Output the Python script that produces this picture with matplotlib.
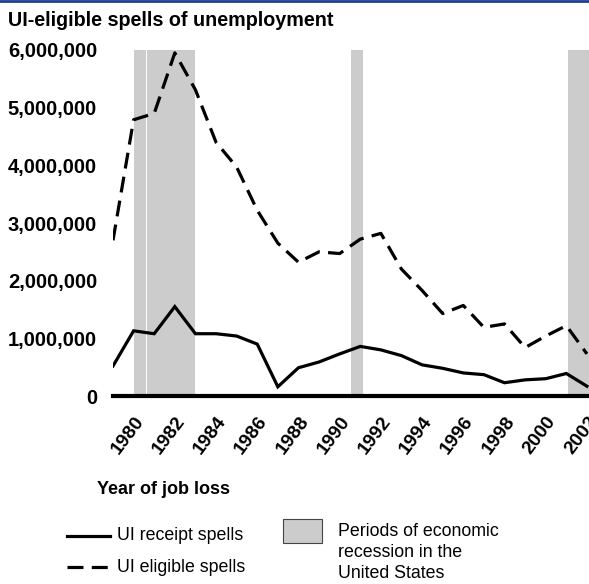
import matplotlib.pyplot as plt
import matplotlib.transforms as mtransforms
from matplotlib.lines import Line2D
from matplotlib.patches import Rectangle

plt.rcParams['font.family'] = ['Liberation Sans', 'DejaVu Sans']

years = list(range(1979, 2003))
receipt = [0.52, 1.13, 1.08, 1.55, 1.08, 1.08, 1.04, 0.90, 0.16, 0.49, 0.59, 0.73,
           0.86, 0.80, 0.70, 0.54, 0.48, 0.40, 0.37, 0.23, 0.28, 0.30, 0.39, 0.17]
eligible = [2.70, 4.79, 4.90, 5.95, 5.31, 4.40, 3.97, 3.22, 2.65, 2.32, 2.50, 2.47,
            2.72, 2.82, 2.20, 1.83, 1.43, 1.57, 1.19, 1.25, 0.84, 1.04, 1.22, 0.73]
receipt = [v * 1e6 for v in receipt]
eligible = [v * 1e6 for v in eligible]

# recession periods (start, end) in years
rec_start = [1980.0, 1980.66, 1990.55, 2001.1]
rec_end = [1980.60, 1983.0, 1991.15, 2002.1]

yticks = [0, 1e6, 2e6, 3e6, 4e6, 5e6, 6e6]
xticks = list(range(1980, 2003, 2))

fig = plt.figure(figsize=(5.89, 5.84), dpi=100)
ax = fig.add_axes([113 / 589, 1 - 396 / 584, 476 / 589, 346 / 584])

for s, e in zip(rec_start, rec_end):
    ax.axvspan(s, e, color='#cccccc', lw=0, zorder=0)

ax.plot(years, receipt, color='black', lw=2.3, solid_joinstyle='miter', zorder=3)
ax.plot(years, eligible, color='black', lw=2.3, dashes=(5, 2.6), zorder=3)

ax.set_xlim(1979, 2002.1)
ax.set_ylim(0, 6e6)
ax.set_yticks(yticks)
ax.set_yticklabels([f"{int(v):,}" for v in yticks], fontsize=14.5, fontweight='bold')
ax.set_xticks(xticks)
ax.set_xticklabels([str(x) for x in xticks], fontsize=13.8, fontweight='bold',
                   rotation=53, ha='right', va='center', rotation_mode='anchor')
ax.tick_params(axis='both', length=0)
ax.tick_params(axis='x', pad=16)
ax.tick_params(axis='y', pad=11.5)
shift = mtransforms.ScaledTranslation(7 / 100, 0, fig.dpi_scale_trans)
for lab in ax.get_xticklabels():
    lab.set_transform(lab.get_transform() + shift)
for sp in ['top', 'right', 'left']:
    ax.spines[sp].set_visible(False)
ax.spines['bottom'].set_linewidth(3)
ax.spines['bottom'].set_zorder(4)

fig.text(8 / 589, 1 - 20 / 584, "UI-eligible spells of unemployment", fontsize=14.2,
         fontweight='bold', va='center', ha='left')
fig.text(97 / 589, 1 - 490 / 584, "Year of job loss", fontsize=13,
         fontweight='bold', va='center', ha='left')

# thin blue rule at the top
fig.add_artist(Line2D([0, 1], [1 - 1 / 584, 1 - 1 / 584], color='#1f3a93', lw=2))

# legend, laid out by hand
fig.add_artist(Line2D([67 / 589, 110 / 589], [1 - 536 / 584] * 2, color='black', lw=2.3))
fig.add_artist(Line2D([67 / 589, 110 / 589], [1 - 567 / 584] * 2, color='black', lw=2.3,
                      dashes=(5, 2.6)))
fig.text(117 / 589, 1 - 536 / 584, "UI receipt spells", fontsize=12.8, va='center')
fig.text(117 / 589, 1 - 567 / 584, "UI eligible spells", fontsize=12.8, va='center')
fig.add_artist(Rectangle((283 / 589, 1 - 543 / 584), 39 / 589, 24 / 584,
                         facecolor='#cccccc', edgecolor='#444444', lw=0.8,
                         transform=fig.transFigure))
fig.text(338 / 589, 1 - 523 / 584, "Periods of economic\nrecession in the\nUnited States",
         fontsize=12.8, va='top', ha='left', linespacing=1.3)

fig.savefig("out.png", dpi=100)
